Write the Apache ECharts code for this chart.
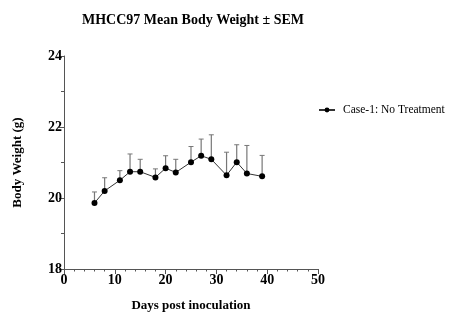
<!DOCTYPE html>
<html><head><meta charset="utf-8">
<script src="https://cdn.jsdelivr.net/npm/echarts@6/dist/echarts.min.js"></script>
<style>html,body{margin:0;padding:0;background:#fff}#c{width:454px;height:335px}</style>
</head><body><div id="c"></div>
<script>
const days = [6, 8, 11, 13, 15, 18, 20, 22, 25, 27, 29, 32, 34, 36, 39];
const meanWeight = [19.86, 20.2, 20.5, 20.74, 20.74, 20.58, 20.84, 20.72, 21.01, 21.19, 21.09, 20.64, 21.01, 20.69, 20.61];
const upperBar = [20.17, 20.57, 20.77, 21.24, 21.09, 20.82, 21.19, 21.09, 21.45, 21.66, 21.78, 21.29, 21.5, 21.48, 21.2];
const xTicks = [0, 10, 20, 30, 40, 50];
const yTicks = [18, 20, 22, 24];
const seriesName = 'Case-1: No Treatment';

const serif = '"Liberation Serif","Times New Roman",serif';
const chart = echarts.init(document.getElementById('c'));
const lineData = days.map((d, i) => [d, meanWeight[i]]);
const errData = days.map((d, i) => [d, meanWeight[i], upperBar[i]]);

chart.setOption({
  animation: false,
  title: {
    text: 'MHCC97 Mean Body Weight ± SEM',
    left: 188, top: 8, textAlign: 'center',
    textStyle: { fontFamily: serif, fontSize: 14, fontWeight: 'bold', color: '#000' }
  },
  legend: {
    left: 313, top: 99, itemWidth: 16, itemHeight: 6, itemGap: 5,
    textStyle: { fontFamily: serif, fontSize: 11.5, color: '#000', padding: [0, 0, 0, 3] },
    data: [seriesName]
  },
  grid: { left: 64, right: 136, top: 56, bottom: 66 },
  xAxis: {
    type: 'value', min: 0, max: 50, interval: 10,
    name: 'Days post inoculation', nameLocation: 'middle', nameGap: 30,
    nameTextStyle: { fontFamily: serif, fontSize: 13, fontWeight: 'bold', color: '#000' },
    axisLine: { show: true, lineStyle: { color: '#555', width: 1 } },
    axisTick: { show: true, length: 5, lineStyle: { color: '#555' } },
    minorTick: { show: true, splitNumber: 5, length: 2.5, lineStyle: { color: '#555' } },
    splitLine: { show: false },
    axisLabel: { fontFamily: serif, fontSize: 14, fontWeight: 'bold', color: '#000', margin: 4,
      formatter: v => xTicks.includes(v) ? String(v) : '' }
  },
  yAxis: {
    type: 'value', min: 18, max: 24, interval: 2,
    name: 'Body Weight (g)', nameLocation: 'middle', nameGap: 40, nameRotate: 90,
    nameTextStyle: { fontFamily: serif, fontSize: 13, fontWeight: 'bold', color: '#000' },
    axisLine: { show: true, lineStyle: { color: '#555', width: 1 } },
    axisTick: { show: true, length: 5, lineStyle: { color: '#555' } },
    minorTick: { show: true, splitNumber: 2, length: 3, lineStyle: { color: '#555' } },
    splitLine: { show: false },
    axisLabel: { fontFamily: serif, fontSize: 14, fontWeight: 'bold', color: '#000', margin: 2,
      formatter: v => yTicks.includes(v) ? String(v) : '' }
  },
  series: [
    {
      name: 'err', type: 'custom', data: errData, z: 1,
      renderItem: function (params, api) {
        const x = api.value(0);
        const p0 = api.coord([x, api.value(1)]);
        const p1 = api.coord([x, api.value(2)]);
        return {
          type: 'group',
          children: [
            { type: 'line', shape: { x1: p0[0], y1: p0[1], x2: p1[0], y2: p1[1] }, style: { stroke: '#777', lineWidth: 1.2 } },
            { type: 'line', shape: { x1: p1[0] - 2.5, y1: p1[1], x2: p1[0] + 2.5, y2: p1[1] }, style: { stroke: '#777', lineWidth: 1 } }
          ]
        };
      }
    },
    {
      name: seriesName, type: 'line', data: lineData, z: 3,
      symbol: 'circle', symbolSize: 6,
      itemStyle: { color: '#000' },
      lineStyle: { color: '#333', width: 1 }
    }
  ]
});
</script></body></html>
